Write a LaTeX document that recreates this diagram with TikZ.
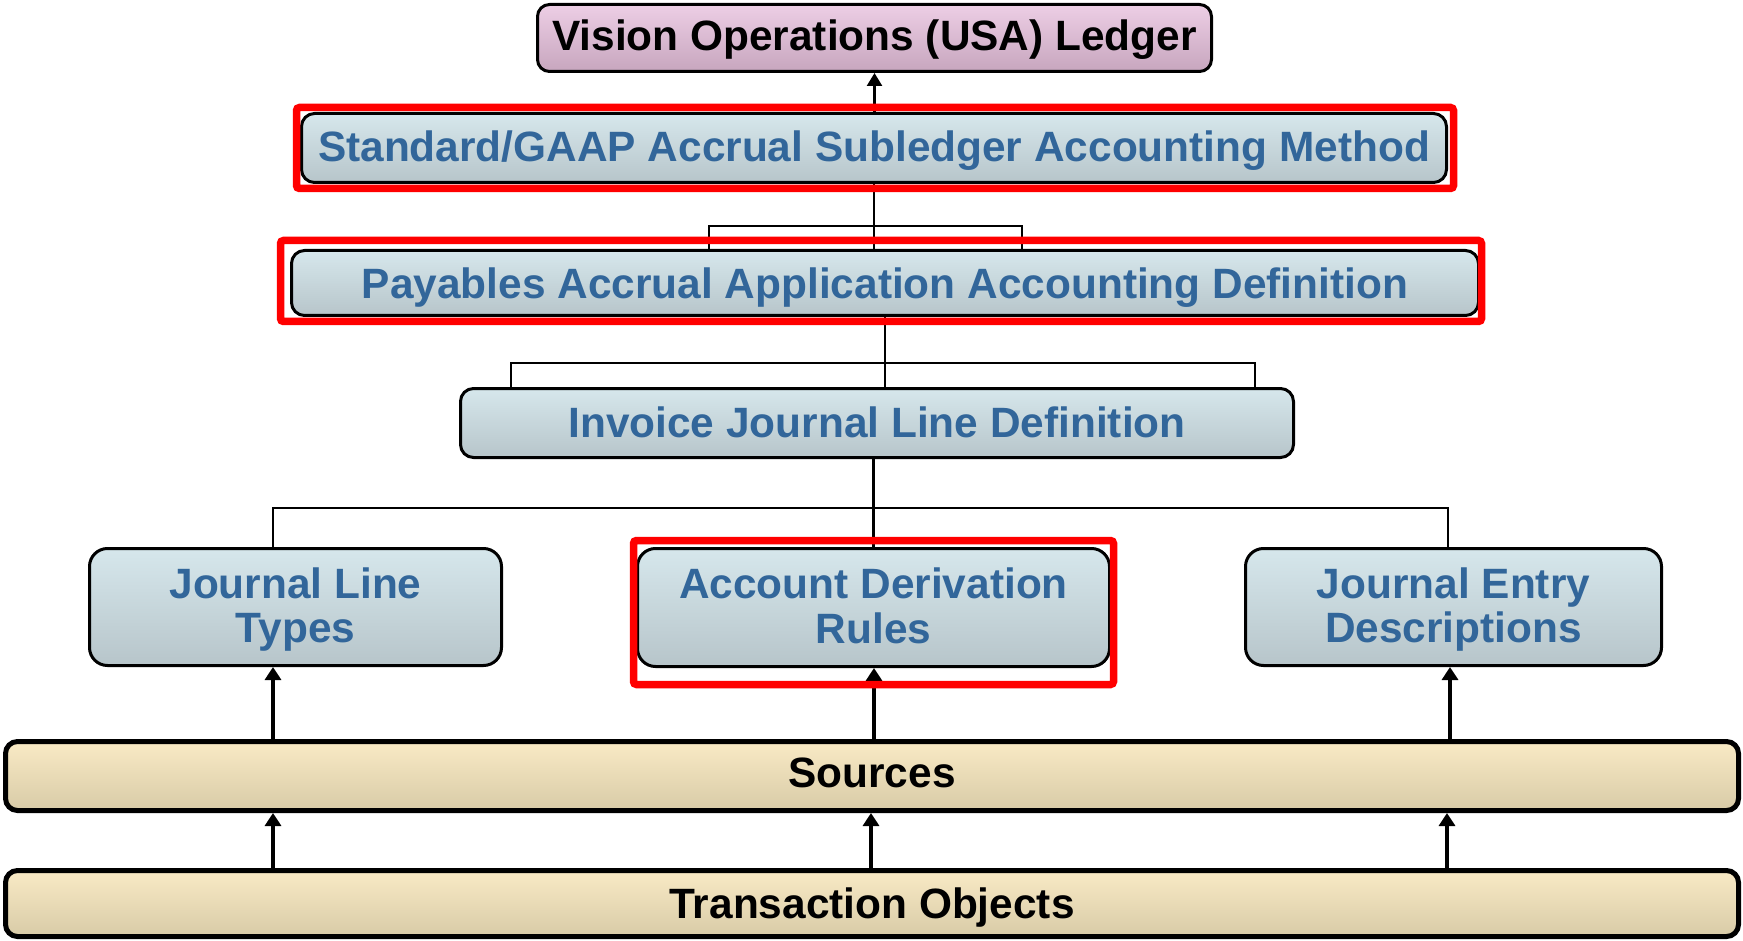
\documentclass[tikz,border=0pt]{standalone}
\usepackage{fontspec}
\setmainfont{Liberation Sans}
\usetikzlibrary{arrows.meta}
\definecolor{txtblue}{RGB}{50,102,154}
\definecolor{bluetop}{RGB}{214,231,236}
\definecolor{bluebot}{RGB}{183,197,202}
\definecolor{pinktop}{RGB}{237,206,229}
\definecolor{pinkbot}{RGB}{199,166,190}
\definecolor{tantop}{RGB}{249,234,197}
\definecolor{tanbot}{RGB}{216,203,167}
\definecolor{hired}{RGB}{255,0,0}
\newcommand{\mytopstrut}{\rule{0pt}{36pt}}
\newcommand{\mybotstrut}{\rule[-9pt]{0pt}{9pt}}
\begin{document}
\begin{tikzpicture}[x=1pt,y=-1pt,
  bigfont/.style={font=\fontsize{42.4}{44.5}\selectfont\bfseries},
  oneline/.style={text height=30.4pt,text depth=#1},
  oneline/.default=0pt,
  boxbase/.style={draw=black,line width=3pt,inner sep=0pt,bigfont,align=center},
  bluebox/.style={boxbase,rounded corners=13pt,top color=bluetop,bottom color=bluebot,text=txtblue},
  tallbox/.style={bluebox,rounded corners=18pt},
  pinkbox/.style={boxbase,rounded corners=12pt,top color=pinktop,bottom color=pinkbot,text=black},
  tanbox/.style={boxbase,line width=5pt,rounded corners=12pt,top color=tantop,bottom color=tanbot,text=black},
  conn/.style={draw=black,line width=2.7pt},
  uparrow/.style={draw=black,line width=2.5pt,-{Triangle[width=15pt,length=13pt]}},
  thickarrow/.style={draw=black,line width=4pt,-{Triangle[width=16pt,length=13pt]}},
  redmark/.style={draw=hired,line width=7.5pt,rounded corners=3pt}
]
\useasboundingbox (0,0) rectangle (1743,941);

% nodes
\node[pinkbox,oneline=5pt,minimum width=674pt,minimum height=67pt] (vision) at (874.5,38) {Vision Operations (USA) Ledger};
\node[bluebox,oneline=4pt,minimum width=1145pt,minimum height=69pt] (std) at (874,148) {Standard/GAAP Accrual Subledger Accounting Method};
\node[bluebox,oneline,minimum width=1187pt,minimum height=65pt] (pay) at (885,283) {Payables Accrual Application Accounting Definition};
\node[bluebox,oneline=2pt,minimum width=833pt,minimum height=69pt] (inv) at (877,423) {Invoice Journal Line Definition};
\node[tallbox,minimum width=412pt,minimum height=117pt] (jlt) at (295.5,607) {\mytopstrut Journal Line\\Types\mybotstrut};
\node[tallbox,minimum width=472pt,minimum height=118pt] (adr) at (873.5,607.5) {\mytopstrut Account Derivation\\Rules\mybotstrut};
\node[tallbox,minimum width=416pt,minimum height=117pt] (jed) at (1453.5,607) {\mytopstrut Journal Entry\\Descriptions\mybotstrut};
\node[tanbox,oneline=7pt,minimum width=1733pt,minimum height=69pt] (src) at (872,776) {Sources};
\node[tanbox,oneline,minimum width=1733pt,minimum height=66pt] (txn) at (872,903.5) {Transaction Objects};

% connector coordinates
\coordinate (bAl) at (709,226);
\coordinate (bAr) at (1022,226);
\coordinate (bBl) at (511,363);
\coordinate (bBr) at (1255,363);
\coordinate (hL) at (273,508);
\coordinate (hR) at (1448,508);
\coordinate (aL) at (273,0);
\coordinate (aM) at (874,0);
\coordinate (aR) at (1450,0);
\coordinate (tL) at (273,0);
\coordinate (tM) at (871,0);
\coordinate (tR) at (1447,0);

% connectors
\draw[uparrow] (std.north -| vision.south) -- (vision.south);
\draw[conn] (std.south) -- (std.south |- pay.north);
\draw[conn] (bAl |- pay.north) -- (bAl) -- (bAr) -- (bAr |- pay.north);
\draw[conn] (pay.south) -- (pay.south |- inv.north);
\draw[conn] (bBl |- inv.north) -- (bBl) -- (bBr) -- (bBr |- inv.north);
\draw[conn] (adr.north |- inv.south) -- (adr.north);
\draw[conn] (hL |- jlt.north) -- (hL) -- (hR) -- (hR |- jed.north);
\draw[thickarrow] (aL |- src.north) -- (aL |- jlt.south);
\draw[thickarrow] (aM |- src.north) -- (aM |- adr.south);
\draw[thickarrow] (aR |- src.north) -- (aR |- jed.south);
\draw[thickarrow] (tL |- txn.north) -- (tL |- src.south);
\draw[thickarrow] (tM |- txn.north) -- (tM |- src.south);
\draw[thickarrow] (tR |- txn.north) -- (tR |- src.south);

% red highlight frames
\draw[redmark] (296.5,107.5) rectangle (1453.5,188.5);
\draw[redmark] (280.5,240.5) rectangle (1481.5,321.5);
\draw[redmark] (633.5,540.5) rectangle (1113.5,684.5);
\end{tikzpicture}
\end{document}
